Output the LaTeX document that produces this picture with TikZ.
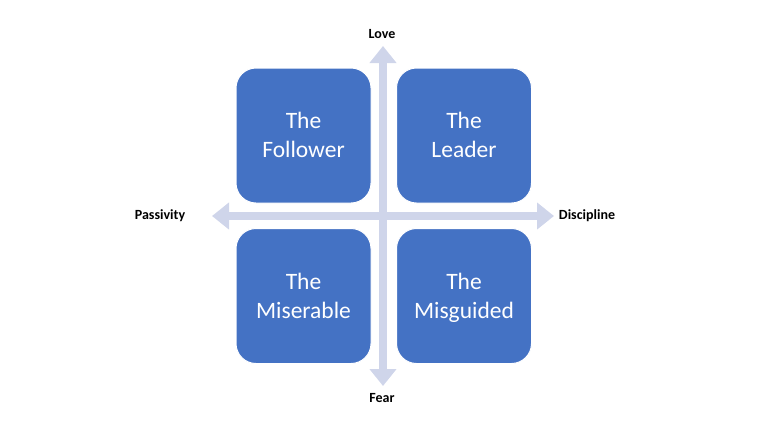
\documentclass[tikz,border=0pt]{standalone}
\usepackage{fontspec}
\setmainfont{Carlito}
\usepackage{xcolor}
\usetikzlibrary{arrows.meta, positioning, calc}

\definecolor{boxblue}{HTML}{4472C4}
\definecolor{axisblue}{HTML}{CFD5EA}

\tikzset{
    quadrant/.style={rectangle, rounded corners=20pt, fill=boxblue, draw=white, line width=1pt,
        minimum width=135pt, minimum height=135pt, text=white, align=center,
        text height=50pt, text depth=6pt,
        font=\fontsize{23.5}{29}\selectfont},
    axislabel/.style={font=\bfseries\fontsize{14}{17}\selectfont, text=black},
    axisarrow/.style={axisblue, line width=8pt,
        {Triangle[width=26pt,length=17pt]}-{Triangle[width=26pt,length=17pt]}}
}

\begin{document}
\begin{tikzpicture}[x=1pt, y=-1pt]
    \useasboundingbox (0,0) rectangle (768,432);

    % Estremi degli assi
    \coordinate (lovetip) at (383,46);
    \coordinate (feartip) at (383,386);
    \coordinate (passtip) at (212,216);
    \coordinate (disctip) at (554,216);

    % Assi (frecce)
    \draw[axisarrow] (lovetip) -- (feartip);
    \draw[axisarrow] (passtip) -- (disctip);

    % Etichette degli assi
    \node[axislabel] (love) at (382,34) {Love};
    \node[axislabel] (fear) at (382,398) {Fear};
    \node[axislabel] (passivity) at (160,216) {Passivity};
    \node[axislabel] (discipline) at (587,216) {Discipline};

    % Quadranti
    \node[quadrant] (follower) at (303.5,135.5) {The\\Follower};
    \node[quadrant] (leader) at (464,135.5) {The\\Leader};
    \node[quadrant] (miserable) at (303.5,296) {The\\Miserable};
    \node[quadrant] (misguided) at (464,296) {The\\Misguided};
\end{tikzpicture}
\end{document}
